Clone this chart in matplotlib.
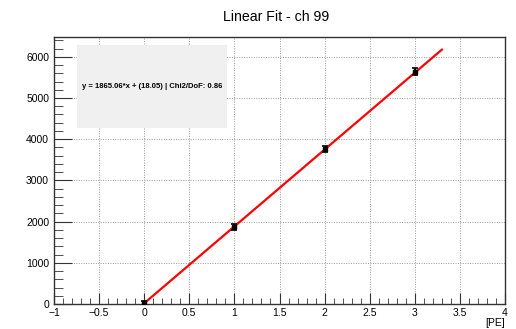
import matplotlib
matplotlib.use("Agg")
import matplotlib.pyplot as plt
from matplotlib.ticker import MultipleLocator
import numpy as np

# measured points
pe = [0, 1, 2, 3]
charge = [20, 1870, 3760, 5640]
charge_err = [60, 70, 75, 80]

# fit result
slope = 1865.06
offset = 18.05
chi2_dof = 0.86
fit_range = [0, 3.3]

plt.rcParams["font.family"] = ["Liberation Sans", "DejaVu Sans"]

W, H = 516, 329
fig = plt.figure(figsize=(W / 100, H / 100), dpi=100)
ax = fig.add_axes([54 / W, 25 / H, 451 / W, 267 / H])

xf = np.linspace(fit_range[0], fit_range[1], 50)
ax.plot(xf, slope * xf + offset, color="red", lw=1.6, zorder=3)
ax.errorbar(pe, charge, yerr=charge_err, fmt="s", color="black", ms=3.5,
            elinewidth=1.5, capsize=2, capthick=1.2, zorder=4)

ax.set_xlim(-1, 4)
ax.set_ylim(0, 6480)
ax.xaxis.set_major_locator(MultipleLocator(0.5))
ax.xaxis.set_minor_locator(MultipleLocator(0.1))
ax.yaxis.set_major_locator(MultipleLocator(1000))
ax.yaxis.set_minor_locator(MultipleLocator(200))
ax.xaxis.set_major_formatter(plt.FuncFormatter(lambda v, _: f"{v:g}".replace("-", "\u2212")))
ax.tick_params(axis="both", which="both", direction="in", labelsize=7.5, color="#333333")
ax.tick_params(axis="x", which="major", length=8, pad=3)
ax.tick_params(axis="x", which="minor", length=4)
ax.tick_params(axis="y", which="major", length=13)
ax.tick_params(axis="y", which="minor", length=6.5)
ax.grid(True, which="major", linestyle=(0, (1, 1.5)), color="#999999", lw=0.7)
for s in ax.spines.values():
    s.set_color("#333333")
    s.set_linewidth(1)

fig.text(276 / W, 1 - 17 / H, "Linear Fit - ch 99", ha="center", va="center", fontsize=10.2)
fig.text(505 / W, 1 - 323.5 / H, "[PE]", ha="right", va="center", fontsize=7.5)

# stats box
box = fig.add_axes([77 / W, (H - 128) / H, 150 / W, 83 / H])
box.set_facecolor("#f0f0f0")
box.set_xticks([])
box.set_yticks([])
for s in box.spines.values():
    s.set_visible(False)
box.text(0.5, 0.5, f"y = {slope:.2f}*x + ({offset:.2f}) | Chi2/DoF: {chi2_dof:.2f}",
         ha="center", va="center", fontsize=5.5, fontweight="bold", transform=box.transAxes)

fig.savefig("out.png", dpi=100, facecolor="white")
